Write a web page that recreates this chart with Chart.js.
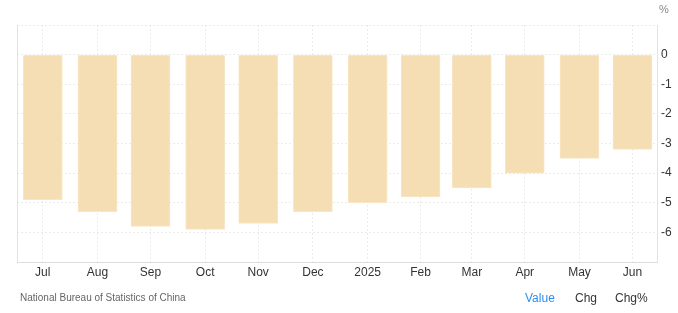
<!DOCTYPE html>
<html>
<head>
<meta charset="utf-8">
<script src="https://cdn.jsdelivr.net/npm/chart.js@4.4.1/dist/chart.umd.min.js"></script>
<style>
  html, body { margin: 0; padding: 0; background: #fff; }
  body { width: 678px; height: 313px; position: relative; overflow: hidden; font-family: "Liberation Sans", Arial, sans-serif; }
  #wrap { position: absolute; left: 0; top: 0; width: 678px; height: 313px; }
  .unit { position: absolute; left: 659px; top: 3px; font-size: 11px; color: #888; }
  .src { position: absolute; left: 20px; top: 292px; font-size: 10px; color: #666; }
  .tab { position: absolute; top: 291px; font-size: 12px; color: #333; }
</style>
</head>
<body>
<div id="wrap"><canvas id="c"></canvas></div>
<div class="unit">%</div>
<div class="src">National Bureau of Statistics of China</div>
<div class="tab" style="left:525px;color:#2d8ff0">Value</div>
<div class="tab" style="left:575px">Chg</div>
<div class="tab" style="left:615px">Chg%</div>
<script>
// Data (China new home prices YoY, %) — dates as placed on the reference time axis
const dates = ['2024-07-31','2024-08-31','2024-09-30','2024-10-31','2024-11-30','2024-12-31','2025-01-31','2025-03-02','2025-03-31','2025-04-30','2025-05-31','2025-06-30'];
const tickLabels = ['Jul','Aug','Sep','Oct','Nov','Dec','2025','Feb','Mar','Apr','May','Jun'];
const values = [-4.9, -5.3, -5.8, -5.9, -5.7, -5.3, -5.0, -4.8, -4.5, -4.0, -3.5, -3.2];
const yTicks = [0, -1, -2, -3, -4, -5, -6];

const DAY = 86400000;
const dayNums = dates.map(d => Date.parse(d + 'T00:00:00Z') / DAY);
const points = dayNums.map((x, i) => ({ x: x, y: values[i] }));

const leftBorder = {
  id: 'leftBorder',
  beforeDatasetsDraw(chart) {
    const { ctx, chartArea } = chart;
    ctx.save();
    ctx.strokeStyle = '#e2e2e2';
    ctx.lineWidth = 1;
    ctx.beginPath();
    ctx.moveTo(Math.round(chartArea.left) + 0.5, chartArea.top);
    ctx.lineTo(Math.round(chartArea.left) + 0.5, chartArea.bottom);
    ctx.stroke();
    ctx.restore();
  }
};

new Chart(document.getElementById('c'), {
  type: 'bar',
  data: {
    datasets: [{
      data: points,
      backgroundColor: '#F5DEB3',
      borderColor: '#F8E6C4',
      borderWidth: 1,
      barThickness: 39
    }]
  },
  plugins: [leftBorder],
  options: {
    responsive: true,
    maintainAspectRatio: false,
    animation: false,
    layout: { padding: { left: 17, top: 25, right: 0, bottom: 0 } },
    plugins: { legend: { display: false }, tooltip: { enabled: false } },
    scales: {
      x: {
        type: 'linear',
        offset: false,
        min: dayNums[0] - 14.6,
        max: dayNums[dayNums.length - 1] + 13.9,
        afterBuildTicks(scale) { scale.ticks = dayNums.map(v => ({ value: v })); },
        afterFit(scale) { scale.height = 51; },
        ticks: {
          autoSkip: false,
          maxRotation: 0,
          padding: 3,
          color: '#333',
          font: { family: '"Liberation Sans", Arial, sans-serif', size: 12 },
          callback(v) { const i = dayNums.indexOf(v); return i >= 0 ? tickLabels[i] : ''; }
        },
        grid: { offset: false, color: '#ebebeb', drawTicks: false },
        border: { display: true, color: '#dcdcdc', dash: [2, 2] }
      },
      y: {
        position: 'right',
        min: -7,
        max: 1,
        afterBuildTicks(scale) {
          const t = [];
          for (let v = 1; v >= -7; v--) t.push({ value: v });
          scale.ticks = t;
        },
        afterFit(scale) { scale.width = 21; },
        ticks: {
          padding: 4,
          color: '#333',
          font: { family: '"Liberation Sans", Arial, sans-serif', size: 12 },
          callback(v) { return yTicks.includes(v) ? String(v) : ''; }
        },
        grid: { color: '#ebebeb', drawTicks: false },
        border: { display: true, color: '#e2e2e2', dash: [2, 2] }
      }
    }
  }
});
</script>
</body>
</html>
